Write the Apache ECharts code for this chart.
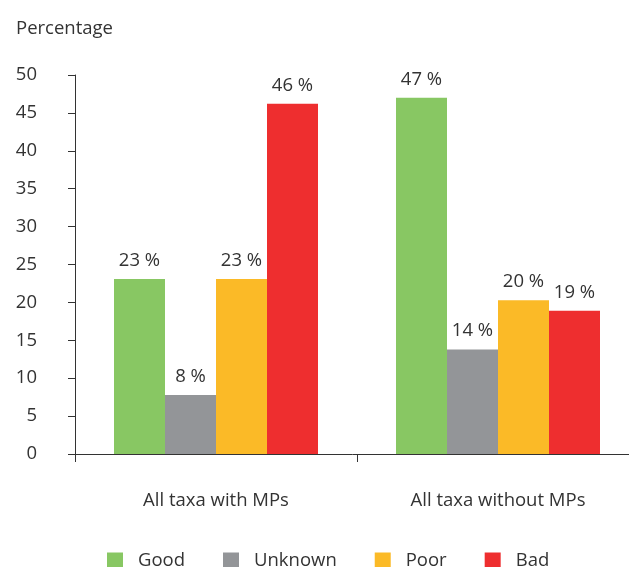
<!DOCTYPE html>
<html><head><meta charset="utf-8">
<script src="https://cdn.jsdelivr.net/npm/echarts@6/dist/echarts.min.js"></script>
<style>html,body{margin:0;padding:0;background:#fff}#c{width:629px;height:567px}</style>
</head><body><div id="c"></div>
<script>
const categories = ['All taxa with MPs', 'All taxa without MPs'];
const seriesNames = ['Good', 'Unknown', 'Poor', 'Bad'];
const good = [23.1, 47.0];
const unknown = [7.8, 13.8];
const poor = [23.1, 20.3];
const bad = [46.2, 18.9];
const yTicks = [0, 50, 5];
const colors = ['#88c763', '#939598', '#fbba27', '#ee2e2f'];

const font = '"Open Sans", sans-serif';
const fs = 18.5;
const txt = '#333333';
const values = [good, unknown, poor, bad];
const chart = echarts.init(document.getElementById('c'));
chart.setOption({
  animation: false,
  textStyle: { fontFamily: font },
  title: { text: 'Percentage', left: 11, top: 14, textStyle: { fontFamily: font, fontSize: fs, fontWeight: 'normal', color: txt } },
  legend: {
    top: 551, left: 107, padding: 0, icon: 'rect', itemWidth: 16, itemHeight: 16, itemGap: 38,
    textStyle: { fontFamily: font, fontSize: fs, color: txt, padding: [0, 0, 0, 10] }
  },
  grid: { left: 75, width: 564, top: 75, height: 379, outerBoundsMode: 'none', containLabel: false },
  xAxis: {
    type: 'category', data: categories,
    axisLine: { lineStyle: { color: txt, width: 1 } },
    axisTick: { show: true, length: 8, lineStyle: { color: txt } },
    axisLabel: { fontFamily: font, fontSize: fs, color: txt, margin: 37 }
  },
  yAxis: {
    type: 'value', min: yTicks[0], max: yTicks[1], interval: yTicks[2],
    splitLine: { show: false },
    axisLine: { show: true, lineStyle: { color: txt, width: 1 } },
    axisTick: { show: true, length: 7, lineStyle: { color: txt } },
    axisLabel: { fontFamily: font, fontSize: fs, color: txt, margin: 38 }
  },
  series: seriesNames.map((n, i) => ({
    name: n, type: 'bar', data: values[i], barWidth: 51, barGap: '0%',
    itemStyle: { color: colors[i] },
    label: { show: true, position: 'top', distance: 9, fontFamily: font, fontSize: fs, color: txt,
      formatter: p => Math.round(p.value) + ' %' }
  }))
});
</script></body></html>
